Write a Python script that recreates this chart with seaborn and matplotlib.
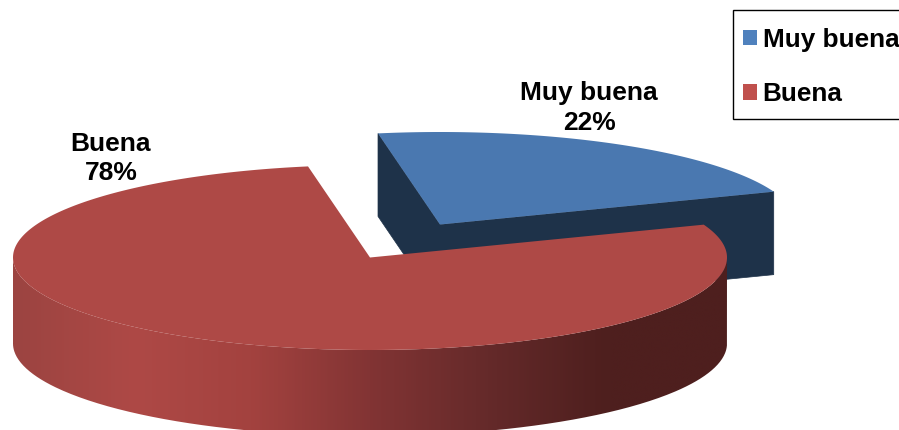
"""
3D style exploded pie: Muy buena / Buena
"""

import numpy as np
import matplotlib
matplotlib.use("Agg")
import matplotlib.pyplot as plt
from matplotlib.patches import Patch, PathPatch, Polygon, Rectangle
from matplotlib.path import Path as MplPath
import seaborn as sns

# Data
labels = ["Muy buena", "Buena"]
percents = [22, 78]

# Colours
legend_colors = ["#4f81bd", "#c0504d"]
top_colors = ["#4a78b0", "#ae4946"]
blue_side = "#1e3249"
red_side_stops = ["#9c4441", "#ae4946", "#a3423f", "#823434", "#652a2a", "#4e1f1e", "#4e1f1e"]

# Layout, in picture pixels
WIDTH, HEIGHT = 899, 430
RX, RY = 357, 92.5
BLUE_DEPTH, RED_DEPTH = 83, 86
START_ANGLE = 100
CENTERS = [(440, 224.5), (370, 257.5)]

sns.set_theme(style="white")
plt.rcParams['font.family'] = ['Liberation Sans', 'DejaVu Sans']


def rim(center, t_deg, drop=0):
    """Points on the pie rim for the parameter angles t_deg"""
    t = np.radians(t_deg)
    return np.column_stack([center[0] + RX * np.cos(t),
                            center[1] - RY * np.sin(t) + drop])


def slice_angles():
    """Start and end angle of every slice, going clockwise"""
    edges = START_ANGLE - np.cumsum([0] + percents) * 3.6
    return list(zip(edges[:-1], edges[1:]))


def draw_top(ax, center, a0, a1, color):
    arc = rim(center, np.linspace(a0, a1, 300))
    ax.add_patch(Polygon(np.vstack([[center], arc]), closed=True,
                         facecolor=color, edgecolor='none', zorder=3))


def draw_blue_cuts(ax, center, a0, a1):
    """The two flat cut faces of the pulled out slice"""
    for angle in (a0, a1):
        p = rim(center, [angle])[0]
        face = [center, p, (p[0], p[1] + BLUE_DEPTH),
                (center[0], center[1] + BLUE_DEPTH)]
        ax.add_patch(Polygon(face, closed=True, facecolor=blue_side,
                             edgecolor=blue_side, linewidth=0.5, zorder=2))


def draw_red_side(ax, center):
    """Front wall of the big slice with a left to right shading"""
    t = np.linspace(180, 360, 300)
    wall = np.vstack([rim(center, t), rim(center, t[::-1], drop=RED_DEPTH)])
    patch = PathPatch(MplPath(np.vstack([wall, wall[:1]])), facecolor='none',
                      edgecolor='none', transform=ax.transData)
    ax.add_patch(patch)

    n = 120
    shade = sns.blend_palette(red_side_stops, n_colors=n)
    im = ax.imshow(np.array([shade]), aspect='auto', zorder=2.5,
                   extent=(center[0] - RX, center[0] + RX,
                           center[1] + RY + RED_DEPTH, center[1] - RY),
                   interpolation='bilinear')
    im.set_clip_path(patch)


def main():
    fig = plt.figure(figsize=(WIDTH / 100, HEIGHT / 100), dpi=100, facecolor='white')
    ax = fig.add_axes([0, 0, 1, 1])

    angles = slice_angles()
    draw_blue_cuts(ax, CENTERS[0], *angles[0])
    draw_top(ax, CENTERS[0], *angles[0], top_colors[0])
    draw_red_side(ax, CENTERS[1])
    draw_top(ax, CENTERS[1], *angles[1], top_colors[1])

    ax.set_xlim(0, WIDTH)
    ax.set_ylim(HEIGHT, 0)
    ax.axis('off')

    # Data labels
    for label, pct, pos in zip(labels, percents, [(589, 108), (111, 158.5)]):
        ax.text(pos[0], pos[1], f"{label}\n{pct}%", ha='center', va='center',
                fontsize=19, fontweight='bold', color='black', linespacing=1.27,
                zorder=5)

    # Legend box runs off the right edge of the picture
    ax.add_patch(Rectangle((733, 10), 200, 109, facecolor='white', edgecolor='black',
                           linewidth=1, zorder=5))
    handles = [Patch(facecolor=c, edgecolor='none') for c in legend_colors]
    leg = ax.legend(handles, labels, loc='upper left',
                    bbox_to_anchor=(743 / WIDTH, 1 - 27.5 / HEIGHT),
                    bbox_transform=fig.transFigure, borderaxespad=0, borderpad=0,
                    prop={'size': 18.8, 'weight': 'bold'}, frameon=False,
                    labelcolor='black', handlelength=0.53, handleheight=0.53,
                    handletextpad=0.22, labelspacing=1.18)
    leg.set_zorder(6)

    fig.savefig('out.png', dpi=100)
    plt.close(fig)


if __name__ == "__main__":
    main()
